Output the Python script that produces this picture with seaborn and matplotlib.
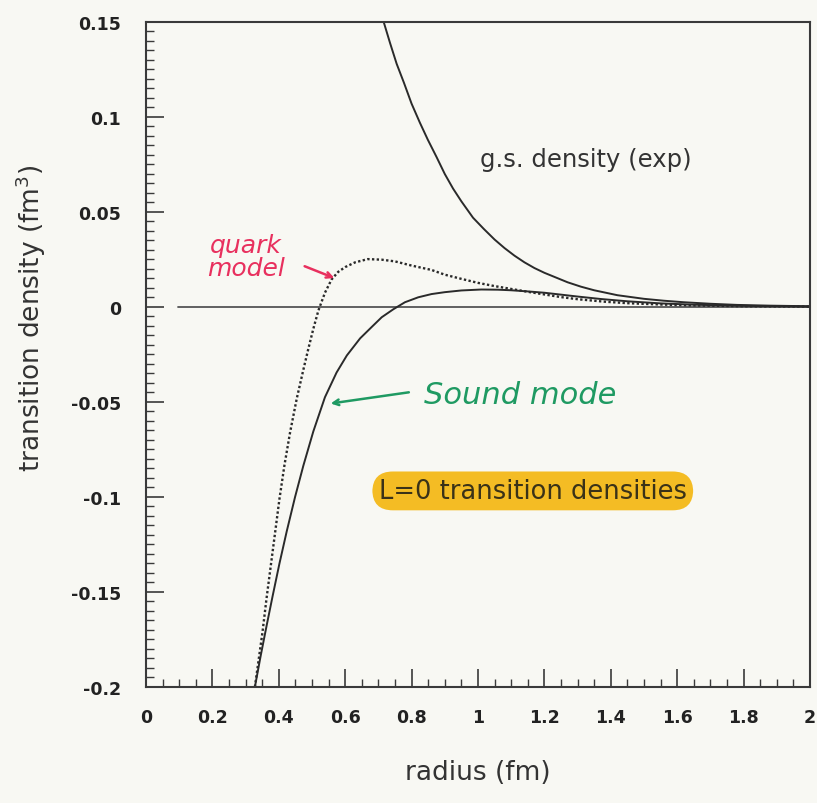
import matplotlib
matplotlib.use("Agg")
import matplotlib.pyplot as plt
import seaborn as sns
import pandas as pd
from matplotlib.ticker import MultipleLocator

sns.set_style("ticks")
plt.rcParams['font.family'] = ['DejaVu Sans']

# ---- data ----
gs_r = [0.716, 0.735, 0.755, 0.777, 0.80, 0.825, 0.849, 0.875, 0.90, 0.925, 0.95,
        0.985, 1.018, 1.05, 1.08, 1.11, 1.14, 1.17, 1.20, 1.235, 1.27, 1.31, 1.35,
        1.42, 1.50, 1.56, 1.62, 1.70, 1.78, 1.88, 2.0]
gs_rho = [0.150, 0.139, 0.128, 0.118, 0.107, 0.097, 0.088, 0.079, 0.0700, 0.0623,
          0.0556, 0.047, 0.041, 0.0355, 0.031, 0.027, 0.0235, 0.0205, 0.018, 0.0155,
          0.013, 0.0107, 0.0088, 0.0062, 0.0043, 0.0033, 0.0025, 0.0017, 0.0011,
          0.0007, 0.0004]

quark_r = [0.328, 0.351, 0.363, 0.376, 0.389, 0.402, 0.417, 0.434, 0.454, 0.474,
           0.489, 0.504, 0.519, 0.539, 0.559, 0.579, 0.600, 0.630, 0.668, 0.710,
           0.750, 0.800, 0.860, 0.900, 0.950, 1.00, 1.05, 1.10, 1.15, 1.20, 1.25,
           1.30, 1.38, 1.45, 1.55, 1.65, 1.80, 2.0]
quark_rho = [-0.200, -0.171, -0.1535, -0.136, -0.1186, -0.101, -0.0833, -0.066,
             -0.0483, -0.033, -0.022, -0.0115, -0.002, 0.0075, 0.0145, 0.0185, 0.021,
             0.0235, 0.0252, 0.0249, 0.024, 0.0218, 0.0195, 0.017, 0.0148, 0.0127,
             0.011, 0.0095, 0.008, 0.0066, 0.0052, 0.0041, 0.0028, 0.002, 0.0013,
             0.0008, 0.0004, 0.0002]

sound_r = [0.328, 0.345, 0.363, 0.381, 0.402, 0.424, 0.449, 0.474, 0.504, 0.539,
           0.574, 0.605, 0.645, 0.680, 0.710, 0.745, 0.780, 0.820, 0.860, 0.900,
           0.950, 1.01, 1.06, 1.10, 1.15, 1.20, 1.25, 1.30, 1.37, 1.45, 1.55, 1.65,
           1.80, 2.0]
sound_rho = [-0.200, -0.184, -0.168, -0.1525, -0.135, -0.118, -0.100, -0.0835,
             -0.0655, -0.0475, -0.0345, -0.0255, -0.0165, -0.0105, -0.0054, -0.0012,
             0.0025, 0.0051, 0.0068, 0.0078, 0.0087, 0.0092, 0.0091, 0.0088, 0.0082,
             0.0075, 0.0065, 0.0055, 0.0042, 0.003, 0.0019, 0.0012, 0.0006, 0.0002]

zero_r = [0.097, 2.0]
zero_rho = [0.0, 0.0]

x_ticks = [0, 0.2, 0.4, 0.6, 0.8, 1, 1.2, 1.4, 1.6, 1.8, 2]
x_labels = ["0", "0.2", "0.4", "0.6", "0.8", "1", "1.2", "1.4", "1.6", "1.8", "2"]
y_ticks = [-0.2, -0.15, -0.1, -0.05, 0, 0.05, 0.1, 0.15]
y_labels = ["-0.2", "-0.15", "-0.1", "-0.05", "0", "0.05", "0.1", "0.15"]

gs_df = pd.DataFrame({"r": gs_r, "rho": gs_rho})
quark_df = pd.DataFrame({"r": quark_r, "rho": quark_rho})
sound_df = pd.DataFrame({"r": sound_r, "rho": sound_rho})
zero_df = pd.DataFrame({"r": zero_r, "rho": zero_rho})

bg = "#f8f8f3"
ink = "#3a3a3a"

fig = plt.figure(figsize=(8.17, 8.04), dpi=100, facecolor=bg)
ax = fig.add_axes([0.1787, 0.1443, 0.8127, 0.8271])
ax.set_facecolor(bg)

sns.lineplot(data=zero_df, x="r", y="rho", ax=ax, color="#555555", lw=1.3,
             estimator=None, sort=False)
sns.lineplot(data=gs_df, x="r", y="rho", ax=ax, color="#2a2a2a", lw=1.4,
             estimator=None, sort=False)
sns.lineplot(data=sound_df, x="r", y="rho", ax=ax, color="#2a2a2a", lw=1.4,
             estimator=None, sort=False)
sns.lineplot(data=quark_df, x="r", y="rho", ax=ax, color="#2a2a2a", lw=1.7,
             estimator=None, sort=False, linestyle=(0, (1, 1)))

ax.set_xlim(0, 2)
ax.set_ylim(-0.2, 0.15)
ax.set_xticks(x_ticks)
ax.set_xticklabels(x_labels, fontweight="bold", fontsize=12.5, color="#222222")
ax.set_yticks(y_ticks)
ax.set_yticklabels(y_labels, fontweight="bold", fontsize=12.5, color="#222222")
ax.xaxis.set_minor_locator(MultipleLocator(0.05))
ax.yaxis.set_minor_locator(MultipleLocator(0.005))
ax.tick_params(which="major", direction="in", length=13, width=1.2, color=ink)
ax.tick_params(which="minor", direction="in", length=6, width=1.0, color=ink)
ax.tick_params(axis="y", which="major", pad=18)
ax.tick_params(axis="x", which="major", pad=15)
ax.tick_params(axis="y", which="both", right=False)
ax.tick_params(axis="x", which="both", top=False)
for s in ax.spines.values():
    s.set_color(ink)
    s.set_linewidth(1.5)
    s.set_visible(True)

ax.set_xlabel("radius (fm)", fontsize=19, color="#333333", labelpad=24)
ax.set_ylabel("transition density (fm$^3$)", fontsize=19, color="#333333", labelpad=14)
ax.yaxis.set_label_coords(-0.148, 0.555)

ax.text(1.325, 0.078, "g.s. density (exp)", fontsize=17.5, color="#333333",
        ha="center", va="center")
ax.text(1.165, -0.0968, "L=0 transition densities", fontsize=18.5, color="#3a3218",
        ha="center", va="center",
        bbox=dict(boxstyle="round,pad=0.25,rounding_size=0.8", fc="#f4b200",
                  ec="none", alpha=0.85))

red = "#e8305e"
green = "#1f9a62"
ax.text(0.30, 0.0268, "quark\nmodel", fontsize=18, color=red, style="italic",
        ha="center", va="center", linespacing=0.95)
ax.annotate("", xy=(0.575, 0.0147), xytext=(0.47, 0.022),
            arrowprops=dict(arrowstyle="->", color=red, lw=1.8))
ax.text(1.127, -0.046, "Sound mode", fontsize=22, color=green, style="italic",
        ha="center", va="center")
ax.annotate("", xy=(0.548, -0.051), xytext=(0.80, -0.0447),
            arrowprops=dict(arrowstyle="->", color=green, lw=1.8))

fig.savefig("out.png", dpi=100, facecolor=bg)
